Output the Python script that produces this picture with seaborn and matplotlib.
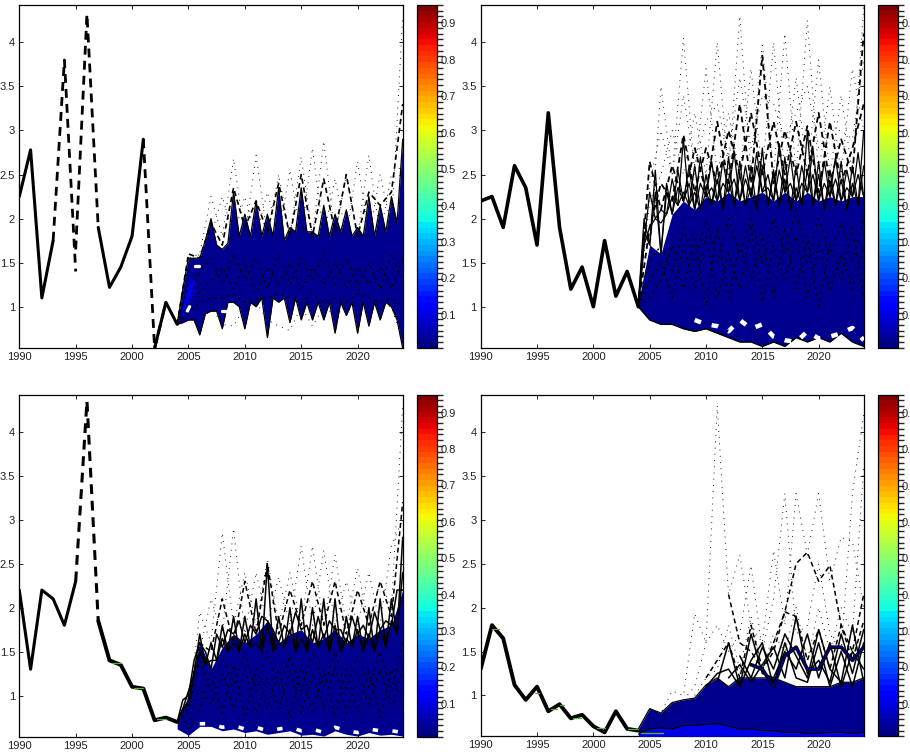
import numpy as np
import matplotlib
matplotlib.use("Agg")
import matplotlib.pyplot as plt
from matplotlib.cm import ScalarMappable
from matplotlib.colors import BoundaryNorm
import seaborn as sns

sns.set_theme(style="white")
plt.rcParams['font.family'] = ['Liberation Sans', 'DejaVu Sans']

years_hist = list(range(1990, 2005))
years_fc = list(range(2004, 2025))
years_half = [y + .5 for y in range(2004, 2024)]

# ---- panel A (top left)
a_hist = [2.25, 2.78, 1.10, 1.75, 3.80, 1.40, 4.32, 1.90, 1.22, 1.45, 1.80, 2.90, 0.53, 1.05, 0.80]
a_top = [.80, 1.55, 1.55, 2.00, 1.65, 2.30, 2.05, 2.20, 2.05, 2.35, 1.90, 2.35, 1.85, 2.15, 2.05, 2.10, 1.90, 2.25, 2.15, 2.25, 2.90]
a_top_h = [1.20, 1.55, 1.75, 1.70, 1.72, 1.80, 1.80, 1.80, 1.80, 1.75, 1.85, 1.85, 1.80, 1.80, 1.85, 1.80, 1.80, 1.80, 1.85, 1.95]
a_low = [.80, .85, .68, .95, .75, 1.05, .75, 1.00, .65, 1.05, .82, .85, .85, .85, .70, .90, .70, .78, .85, 1.00, .53]
a_low_h = [.82, .85, .92, .95, 1.05, 1.00, 1.05, 1.10, 1.10, 1.10, 1.10, 1.05, 1.05, 1.05, 1.05, 1.05, 1.05, 1.05, 1.05, .85]
a_dash = [.80, 1.60, 1.55, 1.95, 1.70, 2.35, 1.90, 2.20, 1.85, 2.40, 1.80, 2.50, 1.80, 2.45, 1.85, 2.50, 1.80, 2.30, 2.15, 2.30, 3.30]
a_dot_odd = [.80, 1.55, 1.60, 2.25, 1.80, 2.68, 1.80, 2.72, 1.80, 2.50, 1.80, 2.70, 1.80, 2.88, 1.80, 2.50, 1.80, 2.72, 1.80, 2.50, 2.60]
a_dot_even = [.80, 1.50, 1.60, 1.80, 2.25, 1.80, 2.25, 1.80, 2.30, 1.80, 2.55, 1.80, 2.80, 1.80, 2.45, 1.80, 2.65, 1.80, 2.50, 1.90, 4.30]
a_dot_low = [.80, .85, .80, 1.00, .80, .78, 1.00, 1.05, .85, .78, .73, 1.00, .78, 1.00, .90, 1.00, .90, .95, 1.00, 1.00, .60]
a_in1 = [.80, 1.25, 1.15, 1.30, 1.45, 1.20, 1.50, 1.15, 1.45, 1.25, 1.50, 1.20, 1.45, 1.25, 1.50, 1.20, 1.45, 1.25, 1.45, 1.20, 1.55]
a_in2 = [.80, 1.05, 1.40, 1.55, 1.25, 1.60, 1.30, 1.55, 1.20, 1.60, 1.25, 1.55, 1.30, 1.60, 1.25, 1.55, 1.25, 1.50, 1.20, 1.60, 1.30]
a_in3 = [.80, .95, 1.05, 1.10, 1.10, 1.15, 1.05, 1.10, 1.10, 1.15, 1.10, 1.05, 1.15, 1.05, 1.10, 1.05, 1.15, 1.10, 1.05, 1.10, 1.00]
a_hole_x = [[2004.9, 2005.1], [2005.6, 2005.9], [2008.0, 2008.6], [2012.8, 2013.1]]
a_hole_y = [[.95, 1.0], [1.46, 1.46], [.95, .95], [1.03, 1.03]]

# ---- panel B (top right)
b_hist = [2.20, 2.25, 1.90, 2.60, 2.35, 1.70, 3.20, 1.90, 1.20, 1.45, 1.00, 1.75, 1.12, 1.40, 1.00]
b_top = [1.05, 1.70, 1.60, 2.05, 2.20, 2.10, 2.25, 2.20, 2.30, 2.20, 2.25, 2.30, 2.20, 2.30, 2.20, 2.30, 2.20, 2.25, 2.20, 2.25, 2.25]
b_low = [1.00, .85, .80, .80, .75, .72, .75, .70, .65, .60, .60, .55, .60, .55, .65, .60, .65, .60, .70, .60, .55]
b_base_h = [1.70, 2.00, 2.05, 2.15, 2.15, 2.10, 2.15, 2.10, 2.15, 2.15, 2.10, 2.15, 2.15, 2.10, 2.15, 2.15, 2.10, 2.15, 2.10, 2.15]
b_peak1 = [1.00, 2.30, 2.10, 2.25, 2.90, 2.30, 2.50, 2.60, 2.45, 2.50, 2.60, 2.60, 2.55, 2.45, 2.60, 3.00, 2.50, 2.55, 2.45, 2.40, 3.00]
b_peak2 = [1.00, 1.90, 1.95, 2.45, 2.30, 2.60, 2.30, 2.45, 2.70, 2.65, 2.35, 2.80, 2.50, 2.70, 2.35, 2.55, 2.65, 2.40, 2.65, 2.60, 2.60]
b_peak3_h = [2.00, 2.30, 2.30, 2.55, 2.60, 2.40, 2.65, 2.40, 2.75, 2.45, 2.60, 2.50, 2.85, 2.40, 2.60, 2.50, 2.65, 2.45, 2.55, 2.50]
b_peak4_h = [1.85, 2.55, 2.40, 2.35, 2.40, 2.70, 2.35, 2.65, 2.45, 2.60, 2.75, 2.35, 2.55, 2.70, 2.40, 2.80, 2.40, 2.70, 2.35, 2.75]
b_dash1 = [1.00, 2.65, 2.10, 2.60, 2.20, 2.80, 2.30, 3.10, 2.40, 3.30, 2.40, 3.85, 2.40, 3.00, 2.50, 3.05, 2.30, 3.10, 2.40, 2.80, 3.30]
b_dash2 = [1.00, 1.90, 2.40, 2.20, 2.95, 2.30, 2.80, 2.40, 3.00, 2.50, 3.20, 2.50, 3.10, 2.50, 3.10, 2.50, 3.20, 2.40, 2.90, 2.50, 4.10]
b_dot_odd = [1.00, 2.20, 2.50, 3.00, 2.50, 3.20, 2.50, 4.00, 2.50, 4.30, 2.50, 4.00, 2.50, 4.10, 2.50, 4.25, 2.50, 3.50, 2.50, 3.70, 3.00]
b_dot_even = [1.00, 1.60, 3.50, 2.50, 4.05, 2.50, 3.70, 2.50, 3.20, 2.50, 3.70, 2.50, 4.00, 2.50, 3.60, 2.50, 3.80, 2.50, 3.40, 2.50, 4.40]
b_dot_mid = [1.00, 2.40, 3.00, 2.50, 3.40, 2.60, 3.10, 3.30, 2.70, 3.60, 2.80, 3.40, 3.30, 2.90, 3.20, 3.50, 2.80, 3.00, 3.00, 2.90, 3.80]
b_in1 = [1.00, 1.30, 1.50, 1.10, 1.70, 1.20, 1.80, 1.10, 1.60, 1.20, 1.90, 1.05, 1.70, 1.30, 1.80, 1.10, 1.70, 1.20, 1.60, 1.20, 1.70]
b_in2 = [1.00, 1.10, 1.30, 1.70, 1.20, 1.80, 1.00, 1.90, 1.10, 1.70, 1.30, 1.80, 1.10, 1.90, 1.20, 1.80, 1.00, 1.70, 1.30, 1.90, 1.10]
b_in3 = [1.00, 1.50, 1.70, 1.40, 1.90, 1.50, 2.00, 1.50, 2.00, 1.60, 2.00, 1.50, 2.00, 1.60, 2.10, 1.50, 2.00, 1.60, 1.95, 1.50, 2.00]
b_hole = [np.nan]*5 + [.85, .80, .78, .72, .85, .75, .80, .66, .62, .60, .72, .64, .66, .70, .76, .62]

# ---- panel C (bottom left)
c_hist = [2.20, 1.30, 2.20, 2.10, 1.80, 2.30, 4.35, 1.85, 1.40, 1.35, 1.10, 1.08, .72, .75, .70]
c_top = [.70, 1.00, 1.60, 1.30, 1.55, 1.70, 1.60, 1.70, 1.85, 1.60, 1.70, 1.75, 1.60, 1.65, 1.75, 1.60, 1.70, 1.65, 1.75, 1.80, 2.20]
c_low = [.62, .55, .65, .65, .60, .62, .58, .60, .56, .58, .60, .55, .56, .54, .60, .56, .54, .58, .55, .56, .54]
c_base_h = [.85, 1.25, 1.35, 1.40, 1.50, 1.50, 1.55, 1.50, 1.50, 1.55, 1.50, 1.50, 1.55, 1.50, 1.50, 1.55, 1.50, 1.50, 1.55, 1.70]
c_peak1 = [.70, 1.05, 1.70, 1.40, 1.80, 1.60, 1.90, 1.60, 2.50, 1.60, 2.00, 1.65, 2.00, 1.70, 2.10, 1.65, 1.90, 1.70, 2.10, 1.85, 2.80]
c_peak2 = [.70, .90, 1.50, 1.60, 1.65, 1.90, 1.70, 2.10, 1.80, 1.90, 1.75, 2.10, 1.75, 2.10, 1.80, 1.90, 1.75, 2.00, 1.75, 2.10, 2.40]
c_peak3_h = [.95, 1.40, 1.50, 1.70, 1.75, 1.85, 1.80, 1.90, 1.75, 1.80, 1.95, 1.80, 1.90, 1.85, 1.75, 1.90, 1.80, 1.95, 1.85, 2.20]
c_dash = [.70, .95, 1.60, 1.50, 2.10, 1.60, 2.30, 1.70, 2.50, 1.70, 2.20, 1.80, 2.30, 1.80, 2.30, 1.70, 2.20, 1.80, 2.30, 1.90, 3.20]
c_dot_even = [.70, .80, 1.95, 1.60, 2.85, 1.80, 2.40, 1.80, 2.55, 1.80, 2.40, 1.80, 2.70, 1.80, 2.60, 1.80, 2.45, 1.80, 2.30, 2.00, 4.30]
c_dot_odd = [.70, 1.00, 1.50, 2.10, 1.70, 2.90, 1.70, 2.40, 1.80, 2.35, 1.80, 2.70, 1.80, 2.65, 1.80, 2.30, 1.80, 2.40, 1.80, 2.70, 3.00]
c_in1 = [.70, .70, 1.10, .90, 1.25, .85, 1.30, .80, 1.20, .85, 1.30, .80, 1.25, .85, 1.35, .80, 1.25, .90, 1.30, .85, 1.30]
c_in2 = [.70, .62, .85, 1.25, .80, 1.35, .75, 1.30, .85, 1.30, .75, 1.35, .80, 1.30, .75, 1.30, .80, 1.30, .75, 1.30, .85]
c_in3 = [.70, .85, 1.40, 1.05, 1.45, 1.10, 1.50, 1.05, 1.50, 1.10, 1.45, 1.05, 1.50, 1.10, 1.50, 1.05, 1.45, 1.10, 1.50, 1.05, 1.60]
c_hole = [np.nan]*2 + [.68, .68, .64, .66, .62, .64, .60, .62, .64, .60, .62, .58, .64, .60, .58, .62, .60, .60, .58]

# ---- panel D (bottom right)
d_hist = [1.30, 1.80, 1.65, 1.12, .95, 1.10, .82, .90, .74, .78, .65, .58, .82, .62, .60]
d_top = [.62, .85, .80, .92, .95, .97, 1.12, 1.20, 1.10, 1.20, 1.20, 1.20, 1.20, 1.15, 1.10, 1.10, 1.10, 1.10, 1.15, 1.15, 1.20]
d_bright = [.56, .62, .63, .62, .66, .66, .67, .68, .65, .62, .62, .60, .60, .58, .58, .57, .57, .58, .58, .57, .58]
d_low = [.535] * 21
d_dot1 = [.60, .70, .80, 1.05, 1.00, 1.93, 1.60, 4.30, 2.15, 2.60, 1.80, 1.60, 2.65, 1.80, 3.30, 2.60, 3.30, 2.30, 2.80, 2.75, 2.00]
d_dot2 = [.60, .65, .75, .90, .95, 1.10, 1.60, 1.80, 1.50, 1.70, 2.48, 1.50, 2.10, 3.30, 1.70, 1.80, 2.50, 1.70, 1.50, 3.30, 4.20]
d_dot3 = [.60, .62, .70, .85, .90, 1.00, 1.20, 1.30, 1.80, 1.30, 1.90, 1.30, 1.70, 1.50, 2.00, 1.40, 2.00, 1.50, 2.00, 1.70, 3.60]
d_dash1 = [np.nan]*8 + [2.15, 1.60, 1.50, 1.30, 1.50, 1.95, 2.50, 2.63, 2.30, 2.48, 1.80, 1.50, 2.15]
d_dash2 = [np.nan]*6 + [1.20, 1.40, 1.60, 1.20, 1.80, 1.30, 1.60, 1.95, 1.90, 1.40, 1.75, 1.30, 1.80, 1.40, 1.85]
d_sol1 = [np.nan]*6 + [1.10, 1.25, 1.30, 1.10, 1.70, 1.25, 1.20, 1.50, 1.30, 1.70, 1.20, 1.60, 1.10, 1.50, 1.30]
d_sol2 = [np.nan]*7 + [1.15, 1.60, 1.10, 1.40, 1.60, 1.10, 1.60, 1.20, 1.15, 1.60, 1.10, 1.50, 1.10, 1.60]
d_sol3 = [np.nan]*8 + [1.20, 1.35, 1.15, 1.35, 1.55, 1.20, 1.90, 1.25, 1.40, 1.15, 1.70, 1.25, 1.75]
d_sol4 = [np.nan]*9 + [1.45, 1.20, 1.55, 1.30, 1.70, 1.45, 1.20, 1.75, 1.30, 1.15, 1.80, 1.15]
d_blue = [np.nan]*10 + [1.35, 1.30, 1.10, 1.45, 1.55, 1.30, 1.30, 1.55, 1.55, 1.40, 1.55]
green_x = [2004.2, 2006.2]
green_y = [.575, .575]
d_step_x = [[1991.0, 1991.6], [1994.8, 1995.2], [1996.2, 1996.8], [1997.0, 1997.4], [1998.2, 1998.9], [2000.3, 2001.0], [2003.1, 2004.0]]
d_step_y = [[1.76, 1.76], [1.03, 1.03], [.85, .85], [.89, .89], [.74, .74], [.63, .63], [.62, .62]]
c_step_x = [[1998.2, 1999.0], [2000.2, 2001.0], [2002.2, 2003.0]]
c_step_y = [[1.37, 1.37], [1.09, 1.09], [.73, .73]]

x_ticks = [1990, 1995, 2000, 2005, 2010, 2015, 2020]
y_ticks = [1, 1.5, 2, 2.5, 3, 3.5, 4]
y_labels = ["1", "1.5", "2", "2.5", "3", "3.5", "4"]
cbar_ticks = [.1, .2, .3, .4, .5, .6, .7, .8, .9]
cbar_levels = np.linspace(.01, .95, 61)

NAVY = "#00008f"
BRIGHT = "#0000e8"
GREEN = "#55b030"
DOT = (0, (0.9, 5.5))
DASH = (0, (3.2, 2.2))
SPARSE = (0, (1.6, 3.2))


def weave(at_year, at_half):
    xs = [v for pair in zip(years_fc, years_half) for v in pair] + [years_fc[-1]]
    ys = [v for pair in zip(at_year, at_half) for v in pair] + [at_year[-1]]
    return xs, ys


def trace(ax, xs, ys, ls="-", lw=1.2, color="black"):
    sns.lineplot(x=xs, y=ys, ax=ax, color=color, linestyle=ls, linewidth=lw,
                 estimator=None, sort=False, legend=False, errorbar=None, zorder=4)


def pieces(ax, all_x, all_y, lw, color):
    for xs, ys in zip(all_x, all_y):
        trace(ax, xs, ys, "-", lw, color)


def frame(ax, cax):
    ax.set_xlim(1990, 2024)
    ax.set_ylim(.535, 4.424)
    ax.set_xticks(x_ticks)
    ax.set_yticks(y_ticks, y_labels)
    ax.set_xlabel("")
    ax.set_ylabel("")
    ax.tick_params(direction="in", top=True, right=True, bottom=True, left=True, length=3, width=.6,
                   labelsize=8, pad=3, labelcolor="#222222", color="black")
    for s in ax.spines.values():
        s.set_visible(True)
        s.set_color("black")
        s.set_linewidth(.9)
    cb = ax.figure.colorbar(ScalarMappable(BoundaryNorm(cbar_levels, 256), "jet"), cax=cax,
                            ticks=cbar_ticks, spacing="proportional", format="%.1f")
    cb.ax.tick_params(direction="in", left=True, right=True, length=3, width=.6, labelsize=8, pad=3,
                      labelcolor="#222222", color="black")
    cb.outline.set_edgecolor("black")
    cb.outline.set_linewidth(.9)


W, H = 910, 752
fig = plt.figure(figsize=(9.1, 7.52), dpi=100, facecolor="white")


def axes_at(l, r, t, b):
    return fig.add_axes([l / W, 1 - b / H, (r - l) / W, (b - t) / H])


def band(ax, at_top, half_top, at_low, half_low):
    tx, ty = weave(at_top, half_top)
    lx, ly = weave(at_low, half_low)
    ax.fill_between(tx, ly, ty, color=NAVY, linewidth=0, zorder=2)
    trace(ax, tx, ty, "-", .9)
    trace(ax, lx, ly, "-", .9)


# panel A
ax = axes_at(19.3, 402.7, 5, 347.7)
band(ax, a_top, a_top_h, a_low, a_low_h)
ax.fill_between([2004.4, 2005, 2005.6], [.88, 1.05, 1.2], [.95, 1.3, 1.3], color=BRIGHT, linewidth=0, zorder=3)
pieces(ax, a_hole_x, a_hole_y, 2.4, "white")
for s in (a_in1, a_in2, a_in3):
    trace(ax, years_fc, s, SPARSE, 1.0)
trace(ax, years_fc, a_dash, DASH, 1.2)
for s in (a_dot_odd, a_dot_even, a_dot_low):
    trace(ax, years_fc, s, DOT, .7)
trace(ax, years_hist[:4], a_hist[:4], "-", 2.2)
trace(ax, years_hist[3:6], a_hist[3:6], DASH, 2.0)
trace(ax, years_hist[5:8], [1.65, 4.32, 1.90], DASH, 2.0)
trace(ax, years_hist[7:12], a_hist[7:12], "-", 2.2)
trace(ax, years_hist[11:14], a_hist[11:14], DASH, 2.0)
trace(ax, years_hist[12:], a_hist[12:], "-", 2.2)
frame(ax, axes_at(417.3, 436.7, 5, 347.7))

# panel B
ax = axes_at(480.7, 863.7, 5, 347.7)
ax.fill_between(years_fc, b_low, b_top, color=NAVY, linewidth=0, zorder=2)
trace(ax, years_fc, b_low, "-", 1.0)
trace(ax, years_fc, b_hole, (0, (1.5, 2.5)), 3.2, "white")
for s in (b_in1, b_in2, b_in3):
    trace(ax, years_fc, s, SPARSE, 1.0)
for s in (b_peak1, b_peak2):
    x_s, y_s = weave(s, b_base_h)
    trace(ax, x_s, y_s, "-", .9)
for s in (b_peak3_h, b_peak4_h):
    x_s, y_s = weave(b_top, s)
    trace(ax, x_s, y_s, "-", .9)
for s in (b_dash1, b_dash2):
    trace(ax, years_fc, s, DASH, 1.3)
for s in (b_dot_odd, b_dot_even, b_dot_mid):
    trace(ax, years_fc, s, DOT, .7)
trace(ax, years_hist, b_hist, "-", 2.6)
frame(ax, axes_at(878.3, 897.7, 5, 347.7))

# panel C
ax = axes_at(19.3, 402.7, 394.5, 736.5)
ax.fill_between(years_fc, c_low, c_top, color=NAVY, linewidth=0, zorder=2)
trace(ax, years_fc, c_hole, (0, (1.5, 4)), 2.6, "white")
for s in (c_in1, c_in2, c_in3):
    trace(ax, years_fc, s, SPARSE, 1.0)
for s in (c_peak1, c_peak2):
    x_s, y_s = weave(s, c_base_h)
    trace(ax, x_s, y_s, "-", 1.1)
x_s, y_s = weave(c_top, c_peak3_h)
trace(ax, x_s, y_s, "-", 1.1)
trace(ax, years_fc, c_dash, DASH, 1.1)
for s in (c_dot_even, c_dot_odd):
    trace(ax, years_fc, s, DOT, .7)
trace(ax, years_hist[:6], c_hist[:6], "-", 2.2)
trace(ax, years_hist[5:8], c_hist[5:8], DASH, 2.2)
trace(ax, years_hist[7:], c_hist[7:], "-", 2.8)
pieces(ax, c_step_x, c_step_y, .9, GREEN)
frame(ax, axes_at(417.3, 436.7, 394.5, 736.5))

# panel D
ax = axes_at(480.7, 863.7, 394.7, 736.3)
ax.fill_between(years_fc, d_low, d_top, color=NAVY, linewidth=0, zorder=2)
ax.fill_between(years_fc, d_low, d_bright, color=BRIGHT, linewidth=0, zorder=3)
trace(ax, years_fc, d_top, "-", .9)
trace(ax, years_fc, d_bright, "-", .8)
trace(ax, green_x, green_y, "-", 1.0, GREEN)
for s in (d_dot1, d_dot2, d_dot3):
    trace(ax, years_fc, s, DOT, .7)
for s in (d_dash1, d_dash2):
    trace(ax, years_fc, s, DASH, 1.1)
for s in (d_sol1, d_sol2, d_sol3, d_sol4):
    trace(ax, years_fc, s, "-", 1.1)
trace(ax, years_fc, d_blue, "-", 2.6)
trace(ax, years_fc, d_blue, "-", 1.2, NAVY)
trace(ax, years_hist, d_hist, "-", 2.8)
pieces(ax, d_step_x, d_step_y, .9, GREEN)
frame(ax, axes_at(878.3, 897.7, 394.7, 736.3))

fig.savefig("out.png", dpi=100)
